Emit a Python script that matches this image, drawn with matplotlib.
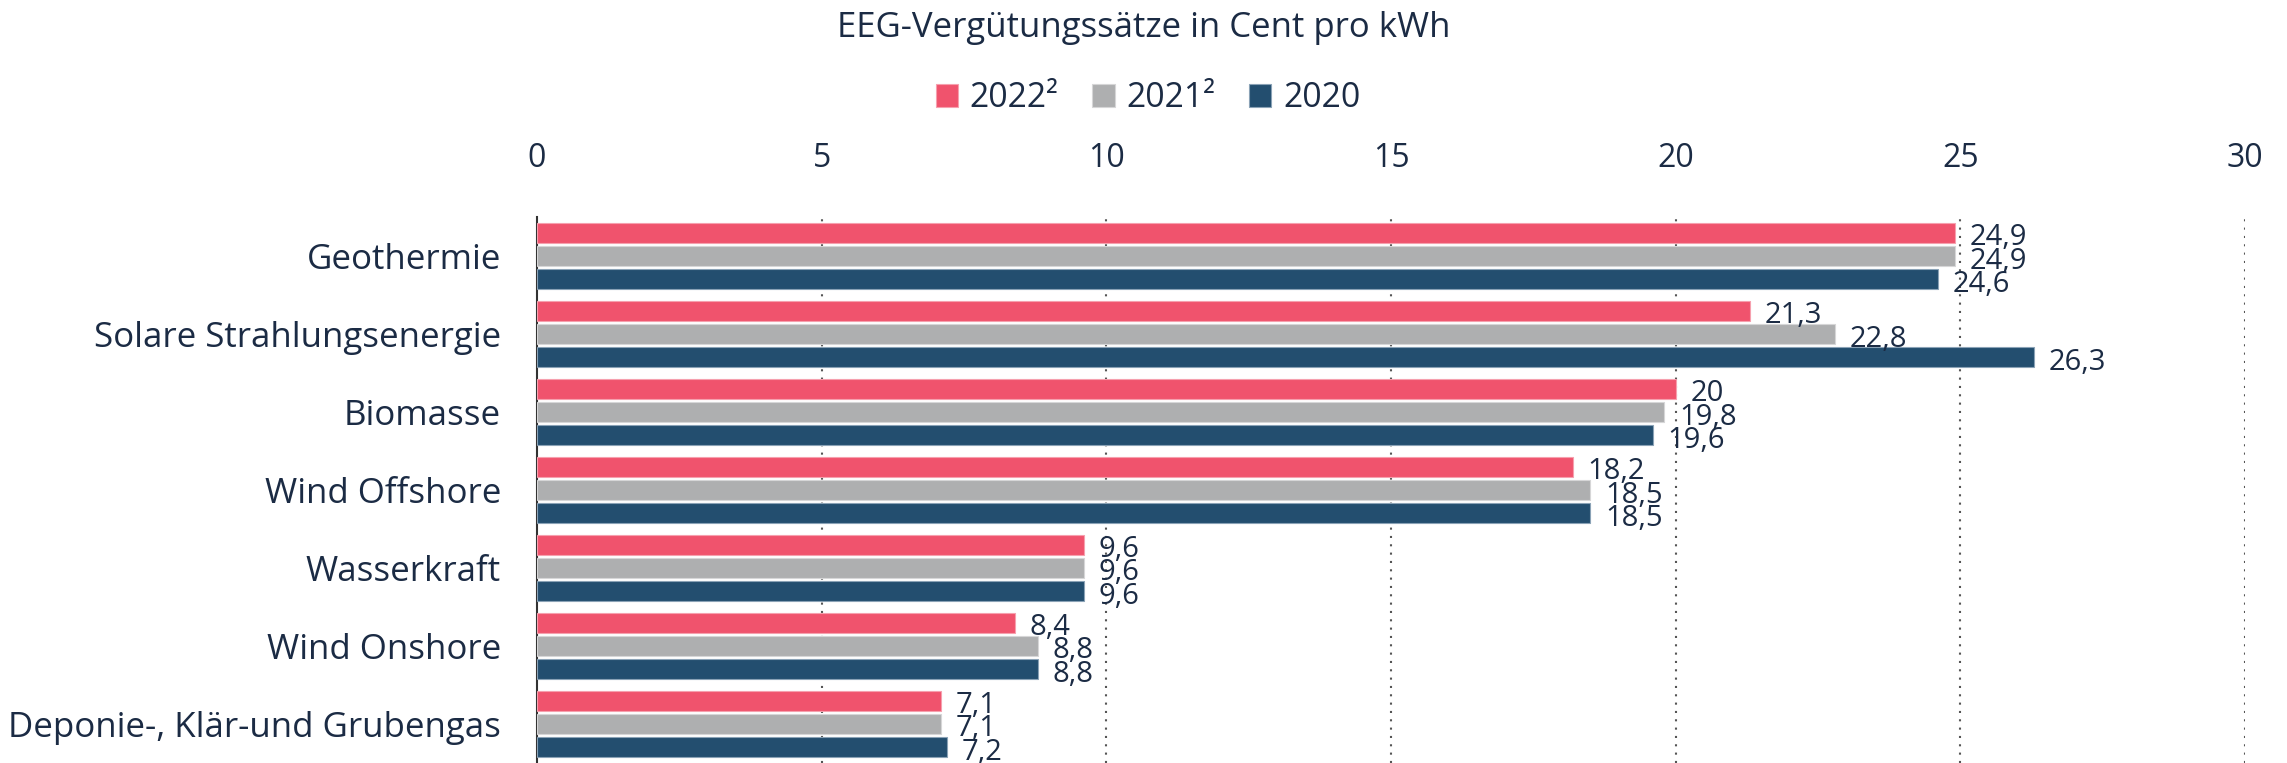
import numpy as np
import matplotlib
matplotlib.use("Agg")
import matplotlib.pyplot as plt
from matplotlib.patches import Patch

plt.rcParams['font.family'] = ['Open Sans', 'DejaVu Sans']

# data
categories = ["Geothermie", "Solare Strahlungsenergie", "Biomasse", "Wind Offshore",
              "Wasserkraft", "Wind Onshore", "Deponie-, Klär-und Grubengas"]
series_names = ["2022²", "2021²", "2020"]
v2022 = [24.9, 21.3, 20.0, 18.2, 9.6, 8.4, 7.1]
v2021 = [24.9, 22.8, 19.8, 18.5, 9.6, 8.8, 7.1]
v2020 = [24.6, 26.3, 19.6, 18.5, 9.6, 8.8, 7.2]
x_ticks = [0, 5, 10, 15, 20, 25, 30]

colors = ["#f0536d", "#aeafb0", "#234e6f"]
edges = ["#f6a0ae", "#d6d6d7", "#8aa2b6"]
text_col = "#1b2b44"

fig = plt.figure(figsize=(22.87, 7.63), dpi=100)
ax = fig.add_axes([537 / 2287, 0.0, (2245 - 537) / 2287, 1 - 217 / 763])

y = np.arange(len(categories))
pitch = 0.298
height = 0.255
for i, (vals, c, ec) in enumerate(zip([v2022, v2021, v2020], colors, edges)):
    pos = y + (i - 1) * pitch
    ax.barh(pos, vals, height=height, color=c, edgecolor=ec, linewidth=0.8, zorder=3)
    # value labels, German decimal comma
    for p, v in zip(pos, vals):
        lab = ("%g" % v).replace(".", ",")
        ax.annotate(lab, (v, p), xytext=(10.5, -9), textcoords="offset points",
                    ha="left", va="baseline", fontsize=21, color=text_col, zorder=4)

ax.set_xlim(0, 30)
ax.set_ylim(len(categories) - 0.5, -0.5)
ax.set_xticks(x_ticks)
ax.xaxis.tick_top()
ax.tick_params(axis="x", length=0, pad=30, labelsize=23, colors=text_col)
ax.set_yticks(y)
ax.set_yticklabels(categories)
ax.tick_params(axis="y", length=0, pad=26, labelsize=25.1, colors=text_col)

for s in ["top", "right", "bottom"]:
    ax.spines[s].set_visible(False)
ax.spines["left"].set_color("#333333")
ax.spines["left"].set_linewidth(1.5)

# dotted vertical gridlines
for xv in x_ticks[1:]:
    ax.axvline(xv, color="#555555", linewidth=1.5, linestyle=(0, (1, 3)), zorder=1)

fig.text(0.5, 1 - 28 / 763, "EEG-Vergütungssätze in Cent pro kWh", ha="center", va="center",
         fontsize=25, color=text_col)

handles = [Patch(facecolor=c, edgecolor=ec, linewidth=0.8) for c, ec in zip(colors, edges)]
leg = fig.legend(handles, series_names, loc="center", bbox_to_anchor=(0.502, 1 - 98 / 763),
                 ncol=3, frameon=False, fontsize=24.3, handlelength=0.66, handleheight=0.66,
                 handletextpad=0.35, columnspacing=1.0)
for t in leg.get_texts():
    t.set_color(text_col)

fig.savefig("out.png", dpi=100)
